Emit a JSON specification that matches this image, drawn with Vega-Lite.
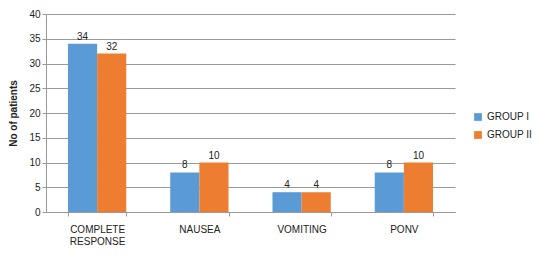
{
  "$schema": "https://vega.github.io/schema/vega-lite/v6.json",
  "autosize": "none",
  "padding": {"left": 46, "top": 14, "right": 83, "bottom": 45},
  "width": 409,
  "height": 198,
  "background": "white",
  "config": {
    "font": "Liberation Sans",
    "view": {"stroke": null}
  },
  "data": {
    "values": [
      {"category": "COMPLETE RESPONSE", "group": "GROUP I", "patients": 34},
      {"category": "COMPLETE RESPONSE", "group": "GROUP II", "patients": 32},
      {"category": "NAUSEA", "group": "GROUP I", "patients": 8},
      {"category": "NAUSEA", "group": "GROUP II", "patients": 10},
      {"category": "VOMITING", "group": "GROUP I", "patients": 4},
      {"category": "VOMITING", "group": "GROUP II", "patients": 4},
      {"category": "PONV", "group": "GROUP I", "patients": 8},
      {"category": "PONV", "group": "GROUP II", "patients": 10}
    ]
  },
  "encoding": {
    "x": {
      "field": "category",
      "type": "nominal",
      "sort": null,
      "title": null,
      "scale": {"paddingInner": 0.43, "paddingOuter": 0.215},
      "axis": {
        "labelAngle": 0,
        "labelFontSize": 10,
        "labelColor": "#222",
        "labelPadding": 8,
        "labelExpr": "datum.label == 'COMPLETE RESPONSE' ? ['COMPLETE', 'RESPONSE'] : datum.label",
        "domainColor": "#999",
        "tickColor": "#999",
        "tickBand": "extent",
        "tickSize": 4
      }
    },
    "xOffset": {"field": "group", "type": "nominal"},
    "y": {
      "field": "patients",
      "type": "quantitative",
      "title": "No of patients",
      "scale": {"domain": [0, 40]},
      "axis": {
        "values": [0, 5, 10, 15, 20, 25, 30, 35, 40],
        "labelFontSize": 10,
        "labelColor": "#222",
        "titleFontSize": 10,
        "titleFontWeight": "bold",
        "titleColor": "#222",
        "titlePadding": 10,
        "gridColor": "#999",
        "domainColor": "#999",
        "tickColor": "#999",
        "tickSize": 4
      }
    }
  },
  "layer": [
    {
      "mark": {"type": "bar"},
      "encoding": {
        "color": {
          "field": "group",
          "type": "nominal",
          "scale": {"domain": ["GROUP I", "GROUP II"], "range": ["#5B9BD5", "#ED7D31"]},
          "legend": {
            "title": null,
            "symbolType": "square",
            "symbolSize": 60,
            "labelFontSize": 10,
            "labelColor": "#222",
            "rowPadding": 8,
            "orient": "none",
            "legendX": 427,
            "legendY": 98
          }
        }
      }
    },
    {
      "mark": {"type": "text", "dy": -7, "fontSize": 10, "color": "#222"},
      "encoding": {
        "text": {"field": "patients", "type": "quantitative"}
      }
    }
  ]
}
